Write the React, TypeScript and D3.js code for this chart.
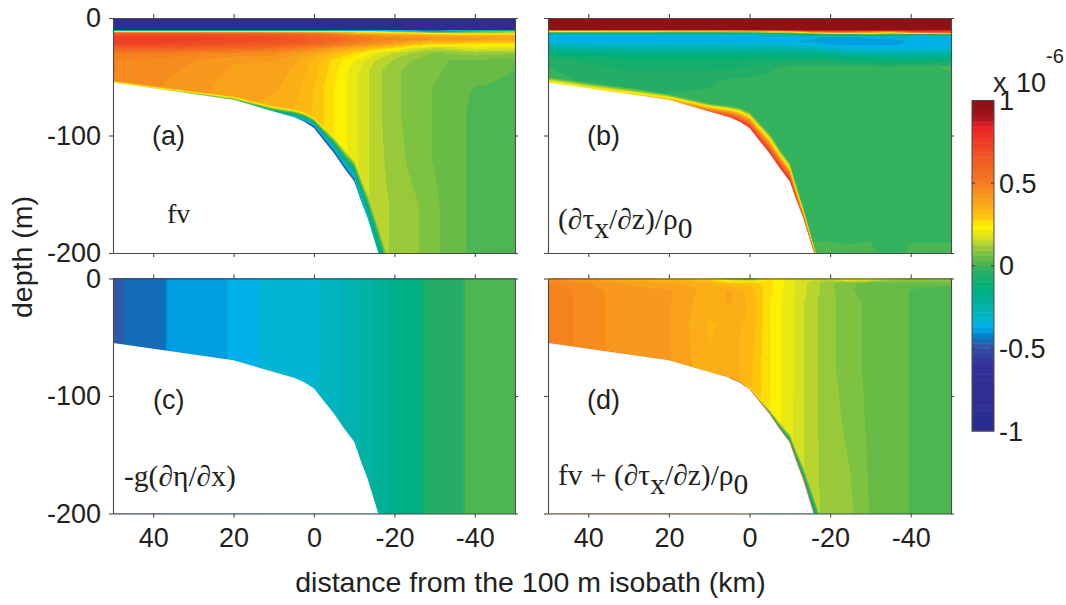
import React, { useEffect, useRef } from "react";
import * as d3 from "d3";

// ---------- data ----------
const colKm = [50, 40, 30, 20, 10, 5, 0, -5, -10, -15, -20, -25, -30, -35, -40, -50];
const bathyKm = [50, 20, 12.4, 5, 2.5, 0, -2.5, -5, -7.5, -10, -11.6, -13.3, -16];
const bathyDepth = [54.8, 69.5, 77.2, 84.5, 88, 93.6, 104.4, 115, 127.7, 139, 154.6, 170, 200];

const colorValues = [1, 0.9, 0.84, 0.65, 0.5, 0.4, 0.3, 0.24, 0.17, 0.1, 0.03, 0, -0.05, -0.12, -0.2, -0.3, -0.33, -0.37, -0.4, -0.44, -0.47, -0.52, -0.6, -1];
const colorHex = ["#8a1015", "#a5141d", "#ed2027", "#f15a24", "#f47b20", "#f9a01b", "#fec20e", "#fff200", "#d7df23", "#8dc63f", "#5cb84a", "#3ab55a", "#22ae66", "#00b078", "#00b096", "#00b4c0", "#00b6d4", "#00aeef", "#0095da", "#0073bc", "#2f62ae", "#3548a0", "#33309a", "#2a2d8c"];

const rowsA = [0, 10, 10.7, 11.5, 13, 15, 18, 22, 26, 30, 36, 45, 60, 80, 120, 160, 200];
const fieldA = [
  [-0.9, -0.9, -0.9, -0.9, -0.9, -0.9, -0.9, -0.9, -0.9, -0.9, -0.9, -0.9, -0.9, -0.9, -0.9, -0.9],
  [-0.85, -0.85, -0.85, -0.85, -0.85, -0.85, -0.85, -0.85, -0.85, -0.85, -0.85, -0.85, -0.85, -0.85, -0.85, -0.85],
  [-0.1, -0.1, -0.1, -0.1, -0.1, -0.1, -0.1, -0.2, -0.3, -0.3, -0.3, -0.35, -0.4, -0.3, -0.2, -0.1],
  [0.25, 0.25, 0.25, 0.25, 0.25, 0.25, 0.25, 0.25, 0.2, 0.2, 0.1, 0.05, -0.1, -0.05, 0.05, 0.12],
  [0.62, 0.62, 0.6, 0.6, 0.58, 0.55, 0.5, 0.45, 0.35, 0.3, 0.3, 0.25, 0.2, 0.17, 0.16, 0.14],
  [0.72, 0.72, 0.72, 0.7, 0.68, 0.65, 0.6, 0.55, 0.5, 0.45, 0.42, 0.4, 0.38, 0.38, 0.38, 0.36],
  [0.74, 0.74, 0.73, 0.72, 0.7, 0.68, 0.65, 0.6, 0.55, 0.5, 0.48, 0.45, 0.45, 0.45, 0.42, 0.4],
  [0.72, 0.72, 0.7, 0.68, 0.66, 0.63, 0.6, 0.54, 0.48, 0.45, 0.4, 0.32, 0.27, 0.27, 0.26, 0.26],
  [0.62, 0.62, 0.6, 0.58, 0.54, 0.5, 0.46, 0.4, 0.36, 0.3, 0.25, 0.18, 0.15, 0.16, 0.19, 0.18],
  [0.5, 0.5, 0.48, 0.46, 0.45, 0.42, 0.38, 0.32, 0.28, 0.2, 0.15, 0.12, 0.09, 0.1, 0.11, 0.1],
  [0.47, 0.46, 0.44, 0.41, 0.41, 0.38, 0.33, 0.27, 0.22, 0.16, 0.12, 0.09, 0.07, 0.06, 0.06, 0.05],
  [0.47, 0.45, 0.43, 0.4, 0.39, 0.37, 0.33, 0.26, 0.2, 0.14, 0.1, 0.08, 0.07, 0.05, 0.05, 0.03],
  [0.47, 0.44, 0.42, 0.39, 0.38, 0.36, 0.31, 0.25, 0.2, 0.14, 0.1, 0.08, 0.06, 0.04, 0.03, 0.02],
  [0.47, 0.44, 0.42, 0.38, 0.36, 0.34, 0.31, 0.25, 0.2, 0.14, 0.1, 0.08, 0.06, 0.04, 0.025, 0.015],
  [0.47, 0.44, 0.42, 0.38, 0.36, 0.34, 0.31, 0.25, 0.2, 0.14, 0.11, 0.08, 0.06, 0.04, 0.025, 0.015],
  [0.47, 0.44, 0.42, 0.38, 0.36, 0.34, 0.31, 0.25, 0.2, 0.14, 0.12, 0.1, 0.07, 0.04, 0.025, 0.015],
  [0.47, 0.44, 0.42, 0.38, 0.36, 0.34, 0.31, 0.25, 0.2, 0.14, 0.12, 0.1, 0.07, 0.04, 0.025, 0.015],
];

const rowsB = [0, 10, 10.7, 11.5, 12.5, 14, 16, 20, 24, 28, 34, 42, 55, 80, 165, 200];
const fieldB = [
  [0.98, 0.98, 0.98, 0.98, 0.98, 0.98, 0.98, 0.98, 0.98, 0.98, 0.98, 0.98, 0.98, 0.98, 0.98, 0.98],
  [0.98, 0.98, 0.98, 0.98, 0.98, 0.98, 0.98, 0.98, 0.98, 0.98, 0.98, 0.98, 0.98, 0.98, 0.98, 0.98],
  [0.5, 0.5, 0.5, 0.5, 0.5, 0.5, 0.6, 0.7, 0.8, 0.85, 0.85, 0.85, 0.85, 0.85, 0.85, 0.8],
  [0.24, 0.24, 0.26, 0.28, 0.3, 0.35, 0.4, 0.3, 0.3, 0.6, 0.7, 0.7, 0.6, 0.45, 0.75, 0.75],
  [0, 0, 0, -0.02, -0.02, -0.03, -0.02, 0.1, 0.1, 0.25, 0.4, 0.4, 0.35, 0.22, 0.45, 0.65],
  [-0.3, -0.3, -0.3, -0.3, -0.3, -0.3, -0.3, -0.25, -0.2, -0.1, -0.05, -0.05, 0.05, 0, -0.05, -0.05],
  [-0.36, -0.36, -0.36, -0.36, -0.36, -0.36, -0.36, -0.36, -0.36, -0.36, -0.38, -0.38, -0.36, -0.36, -0.36, -0.36],
  [-0.36, -0.37, -0.37, -0.37, -0.37, -0.37, -0.37, -0.37, -0.37, -0.38, -0.4, -0.4, -0.39, -0.39, -0.37, -0.37],
  [-0.26, -0.28, -0.3, -0.3, -0.3, -0.3, -0.3, -0.3, -0.3, -0.32, -0.36, -0.37, -0.37, -0.37, -0.37, -0.37],
  [-0.16, -0.18, -0.2, -0.2, -0.2, -0.2, -0.2, -0.2, -0.2, -0.22, -0.26, -0.3, -0.3, -0.3, -0.3, -0.3],
  [-0.06, -0.08, -0.1, -0.1, -0.1, -0.1, -0.1, -0.1, -0.1, -0.1, -0.1, -0.13, -0.14, -0.15, -0.15, -0.14],
  [-0.03, -0.05, -0.07, -0.07, -0.07, -0.07, -0.06, -0.04, -0.02, -0.02, -0.02, -0.02, -0.02, -0.02, -0.015, 0.006],
  [-0.015, -0.035, -0.04, -0.04, -0.035, -0.02, -0.015, -0.015, -0.015, -0.015, -0.015, -0.015, -0.015, -0.015, -0.015, -0.015],
  [-0.015, -0.015, -0.015, -0.015, -0.015, -0.015, -0.015, -0.015, -0.015, -0.015, -0.015, -0.015, -0.015, -0.015, -0.015, -0.015],
  [-0.015, -0.015, -0.015, -0.015, -0.015, -0.015, -0.015, -0.015, -0.015, -0.015, -0.015, -0.015, -0.015, -0.015, -0.015, -0.015],
  [-0.015, -0.015, -0.015, -0.015, -0.015, -0.015, -0.015, 0.005, 0.005, 0.005, 0.006, 0.004, 0.006, -0.015, 0.005, 0.005],
];

const colKmC = [50, 47.5, 47, 37, 36.5, 22, 21.5, 14, 13.5, 0, -10, -20, -27, -27.5, -37, -37.5, -50];
const rowsC = [0, 200];
const fieldC = [
  [-0.47, -0.47, -0.44, -0.44, -0.4, -0.4, -0.37, -0.37, -0.32, -0.32, -0.26, -0.17, -0.12, -0.045, -0.045, 0.005, 0.005],
  [-0.47, -0.47, -0.44, -0.44, -0.4, -0.4, -0.37, -0.37, -0.32, -0.32, -0.26, -0.17, -0.12, -0.045, -0.045, 0.005, 0.005],
];

const rowsD = [0, 1.5, 4, 10, 20, 40, 80, 200];
const fieldD = [
  [0.42, 0.38, 0.32, 0.28, 0.26, 0.1, 0.05, 0.25, 0.22, 0.18, 0.2, 0.26, 0.27, 0.2, 0.17, 0.14],
  [0.46, 0.41, 0.37, 0.35, 0.3, 0.2, 0.15, 0.26, 0.2, 0.16, 0.14, 0.2, 0.15, 0.1, 0.1, 0.1],
  [0.47, 0.44, 0.4, 0.38, 0.35, 0.31, 0.3, 0.26, 0.2, 0.15, 0.1, 0.07, 0.05, 0.06, 0.04, 0.04],
  [0.5, 0.45, 0.42, 0.41, 0.36, 0.38, 0.33, 0.26, 0.2, 0.15, 0.1, 0.07, 0.03, 0.05, 0.03, 0.02],
  [0.5, 0.45, 0.42, 0.41, 0.35, 0.38, 0.34, 0.25, 0.2, 0.14, 0.1, 0.08, 0.05, 0.05, 0.03, 0.02],
  [0.5, 0.45, 0.42, 0.41, 0.34, 0.35, 0.34, 0.25, 0.2, 0.14, 0.1, 0.08, 0.05, 0.05, 0.03, 0.02],
  [0.5, 0.45, 0.42, 0.41, 0.35, 0.37, 0.32, 0.25, 0.2, 0.14, 0.1, 0.08, 0.05, 0.05, 0.03, 0.02],
  [0.5, 0.45, 0.42, 0.41, 0.35, 0.37, 0.32, 0.25, 0.19, 0.14, 0.11, 0.1, 0.06, 0.05, 0.03, 0.02],
];

// layer hugging the sea bed: value at the bottom and its vertical thickness (m)
const bandKm = [50, 40, 30, 20, 10, 5, 0, -5, -10, -13, -16];
const bandValueA = [0.2, 0.15, 0.05, 0, -0.15, -0.38, -0.6, -0.55, -0.5, -0.38, -0.3];
const bandThickA = [2, 2, 2.5, 3, 5, 7, 9, 14, 18, 20, 22];
const bandValueB = [0.28, 0.28, 0.3, 0.36, 0.62, 0.75, 0.8, 0.8, 0.85, 0.7, 0.7];
const bandThickB = [5, 5, 5.5, 5, 7, 10, 14, 17, 16, 10, 6];
const bandValueC = [0, 0, 0, 0, 0, 0, 0, 0, 0, 0, 0];
const bandThickC = [0, 0, 0, 0, 0, 0, 0, 0, 0, 0, 0];
const bandValueD = [0.5, 0.5, 0.5, 0.45, 0.4, 0.4, 0.2, -0.1, -0.2, -0.2, -0.25];
const bandThickD = [0.5, 0.5, 0.5, 0.5, 0.5, 1, 2, 4, 7, 10, 14];
const footSlope = 11; // m per km, sea bed carried on below the lower frame edge

const xTicks = [40, 20, 0, -20, -40];
const yTicks = [0, -100, -200];
const barTicks = [1, 0.5, 0, -0.5, -1];

const INK = "#231f20";
const SANS = "'Liberation Sans', Arial, sans-serif";
const SERIF = "'Liberation Serif', 'Times New Roman', serif";

function lerpAt(xs: number[], ys: number[], x: number) {
  for (let k = 0; k < xs.length - 1; k++) {
    const a = xs[k], b = xs[k + 1];
    if ((x >= a && x <= b) || (x <= a && x >= b)) {
      const t = a === b ? 0 : (x - a) / (b - a);
      return ys[k] + (ys[k + 1] - ys[k]) * t;
    }
  }
  return Math.abs(x - xs[0]) < Math.abs(x - xs[xs.length - 1]) ? ys[0] : ys[ys.length - 1];
}

function bracket(xs: number[], x: number): [number, number] {
  for (let k = 0; k < xs.length - 1; k++) {
    const a = xs[k], b = xs[k + 1];
    if ((x >= a && x <= b) || (x <= a && x >= b)) return [k, a === b ? 0 : (x - a) / (b - a)];
  }
  return Math.abs(x - xs[0]) < Math.abs(x - xs[xs.length - 1]) ? [0, 0] : [xs.length - 2, 1];
}

const panels = [
  { x0: 113, x1: 515, y0: 18, y1: 253, cols: colKm, rows: rowsA, field: fieldA, bv: bandValueA, bt: bandThickA, left: true, bottom: false },
  { x0: 548, x1: 951, y0: 18, y1: 253, cols: colKm, rows: rowsB, field: fieldB, bv: bandValueB, bt: bandThickB, left: false, bottom: false },
  { x0: 113, x1: 515, y0: 278.5, y1: 513.5, cols: colKmC, rows: rowsC, field: fieldC, bv: bandValueC, bt: bandThickC, left: true, bottom: true },
  { x0: 548, x1: 951, y0: 278.5, y1: 513.5, cols: colKm, rows: rowsD, field: fieldD, bv: bandValueD, bt: bandThickD, left: false, bottom: true },
];

const colorScale = d3.scaleLinear<string>().domain(colorValues).range(colorHex).interpolate(d3.interpolateRgb);
const LEVELS = 64;
const levelEdges = d3.range(LEVELS + 1).map((i) => -1 + (2 * i) / LEVELS);
const BED_END = bathyKm[bathyKm.length - 1];

export default function App() {
  const ref = useRef<SVGSVGElement>(null);
  useEffect(() => {
    const svg = d3.select(ref.current!);
    svg.selectAll("*").remove();

    panels.forEach((p, idx) => {
      const x = d3.scaleLinear().domain([50, -50]).range([p.x0, p.x1]);
      const y = d3.scaleLinear().domain([0, -200]).range([p.y0, p.y1]);
      const g = svg.append("g");
      const clipId = `clip${idx}`;
      svg.append("clipPath").attr("id", clipId).append("rect")
        .attr("x", p.x0).attr("y", p.y0).attr("width", p.x1 - p.x0).attr("height", p.y1 - p.y0);

      const n = Math.ceil(p.x1 - p.x0) + 2;
      const m = Math.ceil(p.y1 - p.y0) + 2;
      const iB = d3.range(n).map((i) => bracket(p.cols, x.invert(p.x0 + i - 0.5)));
      const jB = d3.range(m).map((j) => bracket(p.rows, -y.invert(p.y0 + j - 0.5)));
      const values = new Float64Array(n * m);
      for (let j = 0; j < m; j++) {
        const [r, tr] = jB[j];
        const z = -y.invert(p.y0 + j - 0.5);
        for (let i = 0; i < n; i++) {
          const [c, tc] = iB[i];
          const km = x.invert(p.x0 + i - 0.5);
          const top = p.field[r][c] + (p.field[r][c + 1] - p.field[r][c]) * tc;
          const bot = p.field[r + 1][c] + (p.field[r + 1][c + 1] - p.field[r + 1][c]) * tc;
          let v = top + (bot - top) * tr;
          const depth = km >= BED_END
            ? lerpAt(bathyKm, bathyDepth, km)
            : bathyDepth[bathyDepth.length - 1] + footSlope * (BED_END - km);
          const th = lerpAt(bandKm, p.bt, km);
          const d = depth - z;
          if (th > 0 && d < th) {
            const bv = lerpAt(bandKm, p.bv, km);
            v = bv + (v - bv) * Math.max(0, d / th);
          }
          values[j * n + i] = v;
        }
      }

      const fieldG = g.append("g").attr("clip-path", `url(#${clipId})`);
      fieldG.append("rect").attr("x", p.x0).attr("y", p.y0)
        .attr("width", p.x1 - p.x0).attr("height", p.y1 - p.y0)
        .attr("fill", colorScale(-1 + 1 / LEVELS));
      const contours = d3.contours().size([n, m]).smooth(false);
      const geo = d3.geoPath(d3.geoIdentity().translate([p.x0 - 1, p.y0 - 1]) as any);
      levelEdges.slice(1, -1).forEach((t, k) => {
        const shape = contours.contour(values as any, t);
        if (!shape.coordinates.length) return;
        fieldG.append("path").attr("d", geo(shape as any) as string)
          .attr("fill", colorScale(levelEdges[k + 1] + 1 / LEVELS));
      });

      // sea bed
      const bedRows = bathyKm.map((km, i) => ({ km, depth: bathyDepth[i] }));
      const bed = d3.area<{ km: number; depth: number }>()
        .x((d) => x(d.km)).y0(p.y1 + 1).y1((d) => y(-d.depth));
      fieldG.append("path").attr("d", bed(bedRows) as string).attr("fill", "#fff");
      if (idx === 3) {
        const edge = d3.line<{ km: number; depth: number }>().x((d) => x(d.km)).y((d) => y(-d.depth));
        fieldG.append("path").attr("d", edge(bedRows.filter((d) => d.km <= 5)) as string)
          .attr("fill", "none").attr("stroke", "#ef6b2c").attr("stroke-width", 1);
      }

      // axes on all four sides
      const style = (a: d3.Selection<SVGGElement, unknown, null, undefined>) => {
        a.selectAll("path").attr("stroke", "#4a4a4a").attr("stroke-width", 1.1);
        a.selectAll("line").attr("stroke", "#4a4a4a").attr("stroke-width", 1.1);
        a.selectAll("text").attr("font-family", SANS).attr("font-size", 27).attr("fill", INK);
        a.attr("font-family", SANS);
      };
      const fmt = (d: any) => String(d);
      const none = () => "";
      const node = () => svg.append("g") as any;
      node().attr("transform", `translate(${p.x0},0)`)
        .call(d3.axisLeft(y).tickValues(yTicks).tickSize(4).tickSizeOuter(0).tickPadding(8).tickFormat(p.left ? fmt : none)).call(style);
      node().attr("transform", `translate(${p.x1},0)`)
        .call(d3.axisRight(y).tickValues(yTicks).tickSize(3).tickSizeOuter(0).tickFormat(none)).call(style);
      node().attr("transform", `translate(0,${p.y0})`)
        .call(d3.axisTop(x).tickValues(xTicks).tickSize(4).tickSizeOuter(0).tickFormat(none)).call(style);
      node().attr("transform", `translate(0,${p.y1})`)
        .call(d3.axisBottom(x).tickValues(xTicks).tickSize(4).tickSizeOuter(0).tickPadding(10).tickFormat(p.bottom ? fmt : none)).call(style);
    });

    const text = (s: string, px: number, py: number, fs = 27, fam = SANS, anchor = "start") =>
      svg.append("text").attr("x", px).attr("y", py).attr("font-size", fs).attr("font-family", fam)
        .attr("fill", INK).attr("text-anchor", anchor).text(s);

    text("(a)", 152, 145);
    text("(b)", 587, 145);
    text("(c)", 153, 409);
    text("(d)", 587, 409);
    text("fv", 167, 223, 28, SERIF);

    const mixed = (px: number, py: number, parts: [string, number][]) => {
      const t = svg.append("text").attr("x", px).attr("y", py).attr("font-size", 29.5)
        .attr("font-family", SERIF).attr("fill", INK);
      parts.forEach(([s, dy]) => t.append("tspan").attr("dy", dy).text(s));
    };
    mixed(558, 229, [["(∂τ", 0], ["x", 9], ["/∂z)/ρ", -9], ["0", 9]]);
    text("-g(∂η/∂x)", 124, 486, 29.5, SERIF);
    mixed(558, 485, [["fv + (∂τ", 0], ["x", 9], ["/∂z)/ρ", -9], ["0", 9]]);

    text("distance from the 100 m isobath (km)", 530.5, 592, 28.5, SANS, "middle");
    svg.append("text").attr("transform", "translate(32,257) rotate(-90)").attr("text-anchor", "middle")
      .attr("font-size", 28.5).attr("font-family", SANS).attr("fill", INK).text("depth (m)");

    // colour bar
    const bx0 = 972, bx1 = 994;
    const by = d3.scaleLinear().domain([1, -1]).range([100.5, 431]);
    const barLevels = d3.range(LEVELS).map((i) => -1 + (2 * i) / LEVELS);
    svg.append("g").selectAll("rect").data(barLevels).join("rect")
      .attr("x", bx0).attr("width", bx1 - bx0)
      .attr("y", (d) => by(d + 2 / LEVELS))
      .attr("height", (d) => by(d) - by(d + 2 / LEVELS) + 0.5)
      .attr("fill", (d) => colorScale(d + 1 / LEVELS));
    svg.append("rect").attr("x", bx0).attr("y", by(1)).attr("width", bx1 - bx0).attr("height", by(-1) - by(1))
      .attr("fill", "none").attr("stroke", "#4a4a4a").attr("stroke-width", 1);
    const tickG = svg.append("g");
    barTicks.slice(1, -1).forEach((v) => {
      tickG.append("line").attr("x1", bx0).attr("x2", bx0 + 3).attr("y1", by(v)).attr("y2", by(v)).attr("stroke", "#333");
      tickG.append("line").attr("x1", bx1 - 3).attr("x2", bx1).attr("y1", by(v)).attr("y2", by(v)).attr("stroke", "#333");
    });
    barTicks.forEach((v) => text(String(v), 999, by(v) + 9.5));
    text("x", 993, 92, 27);
    text("10", 1016, 92, 27);
    text("-6", 1046, 63, 20);
  }, []);

  return (
    <svg ref={ref} width={1066} height={605} style={{ position: "fixed", left: 0, top: 0, background: "#fff" }} />
  );
}
